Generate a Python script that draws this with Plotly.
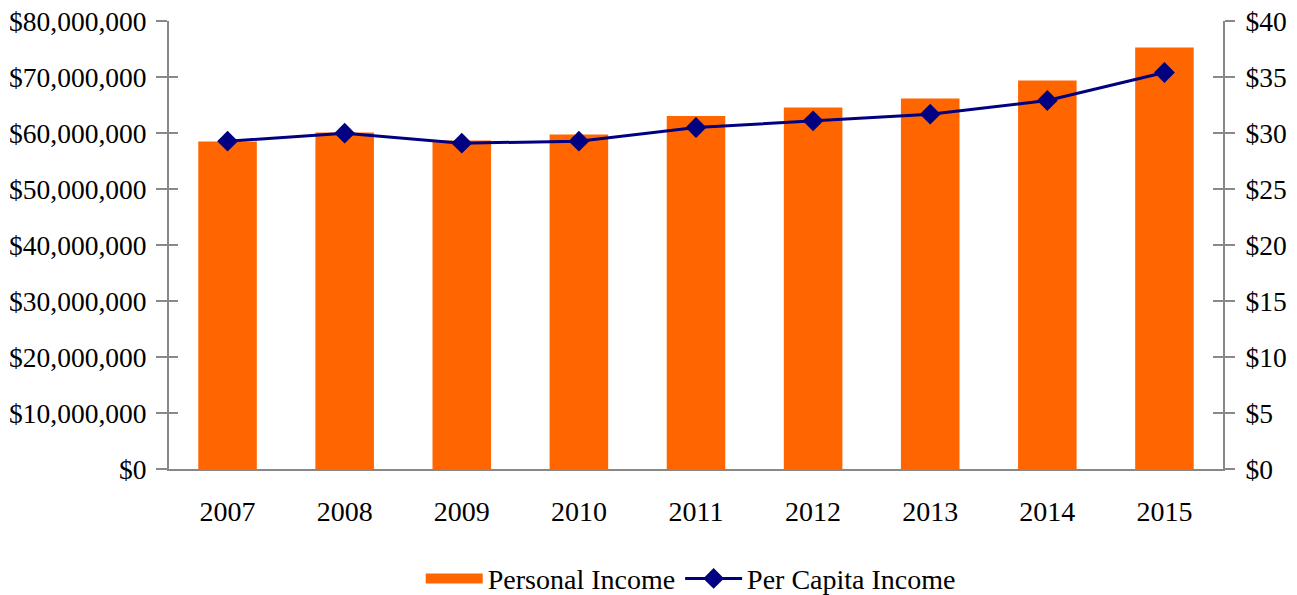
import plotly.graph_objects as go

years = ["2007", "2008", "2009", "2010", "2011", "2012", "2013", "2014", "2015"]
personal_income = [58480000, 60090000, 58660000, 59730000, 63040000, 64550000, 66160000, 69380000, 75270000]
per_capita_income = [29.27, 29.98, 29.09, 29.27, 30.49, 31.09, 31.68, 32.90, 35.40]

AX = "#888888"
ORANGE = "#FF6600"
NAVY = "#000080"
FONT = dict(family="Liberation Serif, Times New Roman, serif", size=28, color="black")
TICKFONT_Y = dict(family="Liberation Serif, Times New Roman, serif", size=27.5, color="black")

fig = go.Figure()
fig.add_trace(go.Bar(x=years, y=personal_income, name="Personal Income", showlegend=False,
                     marker=dict(color=ORANGE, line=dict(width=0)), yaxis="y"))
# legend entry for the bars (wide rectangle swatch)
fig.add_trace(go.Scatter(x=[None], y=[None], name="Personal Income", mode="lines",
                         line=dict(color=ORANGE, width=17), yaxis="y", hoverinfo="skip"))
fig.add_trace(go.Scatter(x=years, y=per_capita_income, name="Per Capita Income",
                         mode="lines+markers", yaxis="y2",
                         line=dict(color=NAVY, width=3),
                         marker=dict(symbol="diamond", size=16, color=NAVY)))
# invisible helper traces so the inner-tick axes are drawn
fig.add_trace(go.Scatter(x=years, y=personal_income, yaxis="y3", mode="none",
                         showlegend=False, hoverinfo="skip"))
fig.add_trace(go.Scatter(x=years, y=per_capita_income, yaxis="y4", mode="none",
                         showlegend=False, hoverinfo="skip"))

common = dict(showgrid=False, zeroline=False, tickwidth=2, tickcolor=AX, automargin=False)
fig.update_layout(
    width=1297, height=595,
    margin=dict(l=169, r=74, t=21, b=126, autoexpand=False),
    paper_bgcolor="white", plot_bgcolor="white",
    font=FONT,
    bargap=0.5,
    xaxis=dict(range=[-0.5, len(years) - 0.5], showline=True, linecolor=AX, linewidth=2,
               ticks="", showgrid=False, ticklabelstandoff=16, tickfont=FONT,
               automargin=False),
    yaxis=dict(range=[0, 80e6], dtick=10e6, tickprefix="$", tickformat=",d",
               ticks="outside", ticklen=11, showline=True, linecolor=AX, linewidth=2,
               ticklabelstandoff=4, tickfont=TICKFONT_Y, **common),
    yaxis2=dict(range=[0, 40], dtick=5, tickprefix="$", overlaying="y", side="right",
                ticks="outside", ticklen=10, showline=True, linecolor=AX, linewidth=2,
                ticklabelstandoff=5, tickfont=TICKFONT_Y, **common),
    yaxis3=dict(range=[0, 80e6], dtick=10e6, overlaying="y", side="left",
                ticks="inside", ticklen=9, showticklabels=False, showline=False, **common),
    yaxis4=dict(range=[0, 40], dtick=5, overlaying="y", side="right",
                ticks="inside", ticklen=10, showticklabels=False, showline=False, **common),
    legend=dict(orientation="h", x=0.495, xanchor="center", y=-0.245, yanchor="middle",
                font=FONT, bgcolor="rgba(0,0,0,0)", itemwidth=57, tracegroupgap=0),
    showlegend=True,
)

fig.write_html("out.html", config={"displayModeBar": False},
               post_script="document.body.style.margin='0';")
